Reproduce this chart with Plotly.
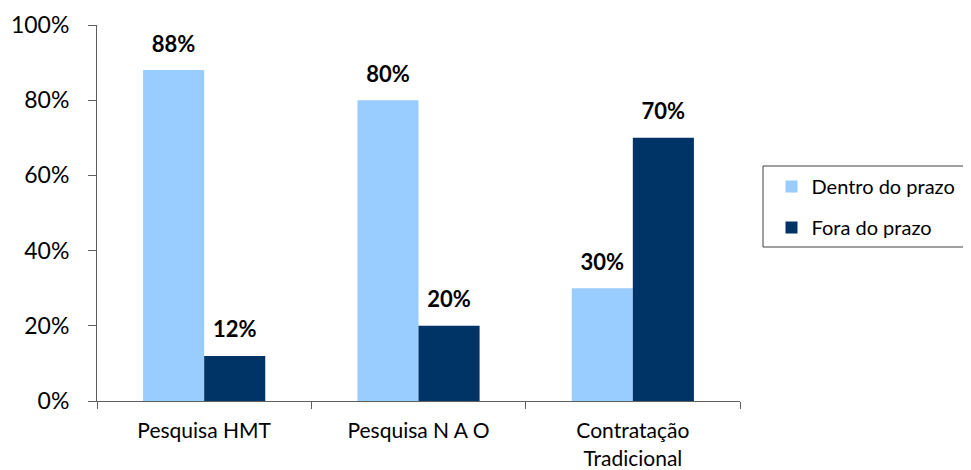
import plotly.graph_objects as go

categories = ["Pesquisa HMT", "Pesquisa N A O", "Contratação<br>Tradicional"]
dentro = [88, 80, 30]
fora = [12, 20, 70]
series_names = ["Dentro do prazo", "Fora do prazo"]
colors = ["#99CCFF", "#003366"]
y_ticks = [0, 20, 40, 60, 80, 100]

FONT = "Lato, Open Sans, sans-serif"
AXIS = "#5f5f5f"
LABEL_LIFT = 2.8  # vertical space (in axis units) between bar top and its label

W, H = 971, 470
ML, MR, MT, MB = 89, 239, 17, 77
PW, PH = W - ML - MR, H - MT - MB

fig = go.Figure()
for i, (name, vals, col) in enumerate(zip(series_names, [dentro, fora], colors)):
    fig.add_trace(go.Bar(
        x=categories, y=vals, name=name, legendgroup=f"g{i}", offsetgroup=f"g{i}",
        marker=dict(color=col, line=dict(width=0)),
    ))
for i, vals in enumerate([dentro, fora]):
    # transparent spacer bars carrying the value labels above each bar
    fig.add_trace(go.Bar(
        x=categories, y=[LABEL_LIFT] * len(vals), base=vals,
        offsetgroup=f"g{i}", showlegend=False, hoverinfo="skip",
        marker=dict(color="rgba(0,0,0,0)", line=dict(width=0)),
        text=[f"{v}%" for v in vals], textposition="outside",
        textfont=dict(family=FONT, size=22, color="black", weight="bold"),
        cliponaxis=False,
    ))

# legend frame (drawn as a shape so the entries can sit independently inside it)
bx0, bx1, by0, by1 = 755, 962, 158, 239  # px in figure coordinates
fig.add_shape(
    type="rect", xref="paper", yref="paper", layer="below",
    x0=(bx0 - ML) / PW, x1=(bx1 - ML) / PW,
    y0=(H - MB - by0) / PH, y1=(H - MB - by1) / PH,
    line=dict(color="#404040", width=1), fillcolor="white",
)

fig.update_layout(
    width=W, height=H,
    margin=dict(l=ML, r=MR, t=MT, b=MB, autoexpand=False),
    paper_bgcolor="white", plot_bgcolor="white",
    barmode="group", bargap=0.43, bargroupgap=0,
    font=dict(family=FONT, color="black"),
    legend=dict(
        x=763.5 / W, y=1 - 159 / H, xref="container", yref="container",
        xanchor="left", yanchor="top",
        borderwidth=0, bgcolor="rgba(0,0,0,0)",
        font=dict(family=FONT, size=20, color="black"),
        tracegroupgap=12,
    ),
    showlegend=True,
)

fig.update_xaxes(
    type="category", range=[-0.5, 2.5], automargin=False,
    showline=True, linecolor=AXIS, linewidth=1,
    ticks="outside", tickson="boundaries", ticklen=7, tickcolor=AXIS,
    ticklabelstandoff=11,
    tickfont=dict(family=FONT, size=21, color="black"),
    showgrid=False, zeroline=False,
)
fig.update_yaxes(
    range=[0, 100], tickvals=y_ticks, ticktext=[f"{v}%" for v in y_ticks],
    automargin=False,
    showline=True, linecolor=AXIS, linewidth=1,
    ticks="outside", ticklen=8, tickcolor=AXIS, ticklabelstandoff=14,
    tickfont=dict(family=FONT, size=23, color="black"),
    showgrid=False, zeroline=False,
)

fig.write_html("out.html")
